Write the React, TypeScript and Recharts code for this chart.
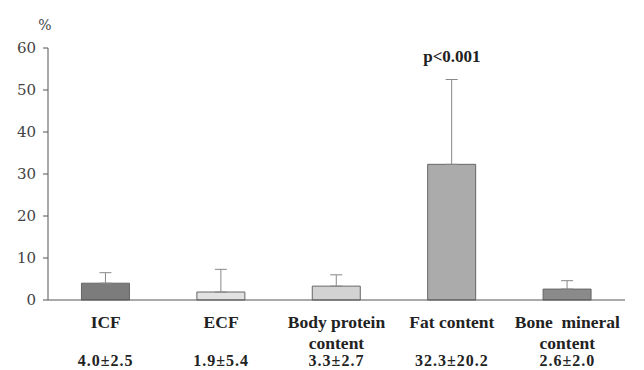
import { BarChart, Bar, XAxis, YAxis, Cell, ErrorBar, ReferenceDot } from 'recharts';

// mean ± SD of % change per body component
const categories = ['ICF', 'ECF', 'Body protein\ncontent', 'Fat content', 'Bone  mineral\ncontent'];
const means = [4.0, 1.9, 3.3, 32.3, 2.6];
const sds = [2.5, 5.4, 2.7, 20.2, 2.0];
const valueLabels = ['4.0±2.5', '1.9±5.4', '3.3±2.7', '32.3±20.2', '2.6±2.0'];
const fills = ['#7c7c7c', '#e2e2e2', '#d2d2d2', '#ababab', '#8a8a8a'];
const yTicks = [0, 10, 20, 30, 40, 50, 60];
const pLabel = 'p<0.001';
const pLabelY = 58;

const data = categories.map((name, i) => ({
  name,
  mean: means[i],
  err: [0, sds[i]],
  stat: valueLabels[i],
}));

const serif = '"Liberation Serif", "DejaVu Serif", serif';
const wideSerif = '"DejaVu Serif", serif';

function CategoryTick({ x, y, payload }: any) {
  const lines = String(payload.value).split('\n');
  const stat = valueLabels[payload.index];
  return (
    <g>
      {lines.map((line, i) => (
        <text
          key={i}
          x={x}
          y={y + 20 + i * 21}
          textAnchor="middle"
          fontFamily={serif}
          fontWeight="bold"
          fontSize={17.5}
          fill="#222"
          style={{ whiteSpace: 'pre' }}
        >
          {line}
        </text>
      ))}
      <text
        x={x}
        y={y + 58}
        textAnchor="middle"
        fontFamily={serif}
        fontWeight="bold"
        fontSize={16}
        letterSpacing={1}
        fill="#222"
      >
        {stat}
      </text>
    </g>
  );
}

function ValueTick({ x, y, payload }: any) {
  return (
    <text x={x} y={y} dy={5} textAnchor="end" fontFamily={wideSerif} fontSize={15} fill="#444">
      {payload.value}
    </text>
  );
}

export default function App() {
  return (
    <div style={{ position: 'absolute', left: 0, top: 0, background: '#fff' }}>
      <BarChart
        width={644}
        height={370}
        data={data}
        margin={{ top: 48, right: 19, bottom: 0, left: 0 }}
        barCategoryGap="29%"
      >
        <XAxis
          dataKey="name"
          axisLine={{ stroke: '#555' }}
          tickLine={false}
          height={70}
          interval={0}
          tick={<CategoryTick />}
        />
        <YAxis
          domain={[0, 60]}
          ticks={yTicks}
          width={48}
          axisLine={{ stroke: '#555' }}
          tickLine={{ stroke: '#555' }}
          tickSize={5}
          tickMargin={7}
          tick={<ValueTick />}
          label={{
            content: ({ viewBox }: any) => (
              <text
                x={viewBox.x + viewBox.width - 3}
                y={viewBox.y - 18}
                textAnchor="middle"
                fontFamily={wideSerif}
                fontSize={14}
                fill="#444"
              >
                %
              </text>
            ),
          }}
        />
        <Bar dataKey="mean" stroke="#666" strokeWidth={1} isAnimationActive={false}>
          {data.map((d, i) => (
            <Cell key={d.name} fill={fills[i]} />
          ))}
          <ErrorBar dataKey="err" direction="y" width={6} stroke="#888" strokeWidth={1} />
        </Bar>
        <ReferenceDot
          x="Fat content"
          y={pLabelY}
          r={0}
          fill="none"
          stroke="none"
          label={{
            value: pLabel,
            position: 'center',
            fontFamily: serif,
            fontWeight: 'bold',
            fontSize: 17,
            fill: '#222',
          }}
        />
      </BarChart>
    </div>
  );
}
